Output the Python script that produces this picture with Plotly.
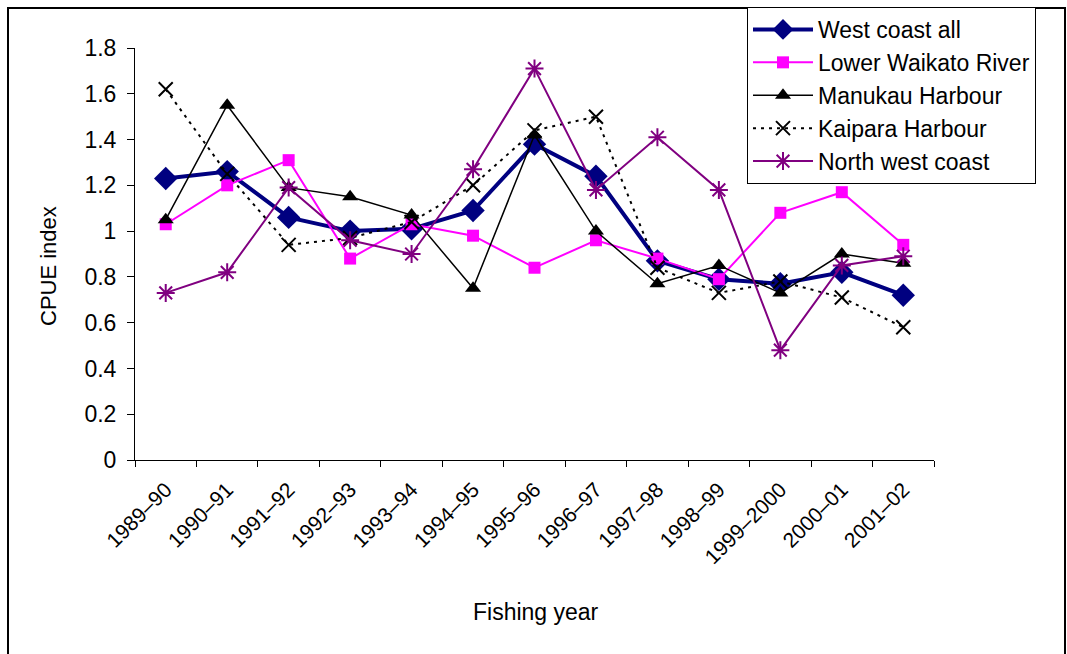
import plotly.graph_objects as go

years = ["1989–90", "1990–91", "1991–92", "1992–93", "1993–94", "1994–95", "1995–96",
         "1996–97", "1997–98", "1998–99", "1999–2000", "2000–01", "2001–02"]

west_coast_all = [1.23, 1.26, 1.06, 1.00, 1.01, 1.09, 1.38, 1.24, 0.87, 0.79, 0.77, 0.82, 0.72]
lower_waikato = [1.03, 1.20, 1.31, 0.88, 1.03, 0.98, 0.84, 0.96, 0.88, 0.79, 1.08, 1.17, 0.94]
manukau = [1.05, 1.55, 1.19, 1.15, 1.07, 0.75, 1.42, 1.00, 0.77, 0.85, 0.73, 0.90, 0.86]
kaipara = [1.62, 1.25, 0.94, 0.97, 1.04, 1.20, 1.44, 1.50, 0.84, 0.73, 0.78, 0.71, 0.58]
north_west = [0.73, 0.82, 1.19, 0.96, 0.90, 1.27, 1.71, 1.18, 1.41, 1.18, 0.48, 0.85, 0.89]

FONT = "Liberation Sans, Arial, sans-serif"

fig = go.Figure()
fig.add_trace(go.Scatter(x=years, y=west_coast_all, name="West coast all", mode="lines+markers",
                         line=dict(color="#000080", width=4),
                         marker=dict(symbol="diamond", size=18, color="#000080")))
fig.add_trace(go.Scatter(x=years, y=lower_waikato, name="Lower Waikato River", mode="lines+markers",
                         line=dict(color="#FF00FF", width=2),
                         marker=dict(symbol="square", size=12, color="#FF00FF")))
fig.add_trace(go.Scatter(x=years, y=manukau, name="Manukau Harbour", mode="lines+markers",
                         line=dict(color="black", width=1.5),
                         marker=dict(symbol="triangle-up", size=14, color="black")))
fig.add_trace(go.Scatter(x=years, y=kaipara, name="Kaipara Harbour", mode="lines+markers",
                         line=dict(color="black", width=2, dash="3px,5px"),
                         marker=dict(symbol="x-thin-open", size=14, color="black",
                                     line=dict(color="black", width=2))))
fig.add_trace(go.Scatter(x=years, y=north_west, name="North west coast", mode="lines+markers",
                         line=dict(color="#800080", width=2),
                         marker=dict(symbol="asterisk-open", size=15, color="#800080",
                                     line=dict(color="#800080", width=2))))

L, R, T, B = 135, 133, 48, 194
W, H = 1067, 654
pw, ph = W - L - R, H - T - B

def px(x):
    return (x - L) / pw

def py(y):
    return (H - B - y) / ph

fig.update_layout(
    width=W, height=H,
    margin=dict(l=L, r=R, t=T, b=B, autoexpand=False),
    paper_bgcolor="white", plot_bgcolor="white",
    font=dict(family=FONT, size=22, color="black"),
    showlegend=True,
    legend=dict(x=px(747), y=py(7), xanchor="left", yanchor="top",
                bordercolor="black", borderwidth=1, bgcolor="white",
                font=dict(size=23, family=FONT), itemwidth=60,
                entrywidth=310, entrywidthmode="pixels",
                tracegroupgap=0),
    xaxis=dict(type="category", showline=True, linecolor="black", linewidth=1,
               ticks="outside", ticklen=6, tickcolor="black", tickson="boundaries",
               tickangle=-45, tickfont=dict(size=21, family=FONT), ticklabelstandoff=8,
               showgrid=False, zeroline=False, range=[-0.5, 12.5], fixedrange=True,
               automargin=False),
    yaxis=dict(range=[0, 1.8], dtick=0.2, tick0=0, showline=True, linecolor="black",
               linewidth=1, ticks="outside", ticklen=7, tickcolor="black",
               ticklabelstandoff=6, automargin=False,
               tickfont=dict(size=23, family=FONT), showgrid=False, zeroline=False),
    annotations=[
        dict(text="Fishing year", x=px(536), y=py(612), xref="paper", yref="paper",
             xanchor="center", yanchor="middle",
             showarrow=False, font=dict(size=23, family=FONT)),
        dict(text="CPUE index", x=px(48), y=py(266), xref="paper", yref="paper",
             xanchor="center", yanchor="middle",
             showarrow=False, textangle=-90, font=dict(size=22, family=FONT)),
    ],
    shapes=[
        dict(type="rect", xref="paper", yref="paper", x0=px(8), x1=px(1065), y0=py(8), y1=py(700),
             line=dict(color="black", width=2), fillcolor="rgba(0,0,0,0)", layer="below"),
    ],
)

fig.write_html("out.html")
